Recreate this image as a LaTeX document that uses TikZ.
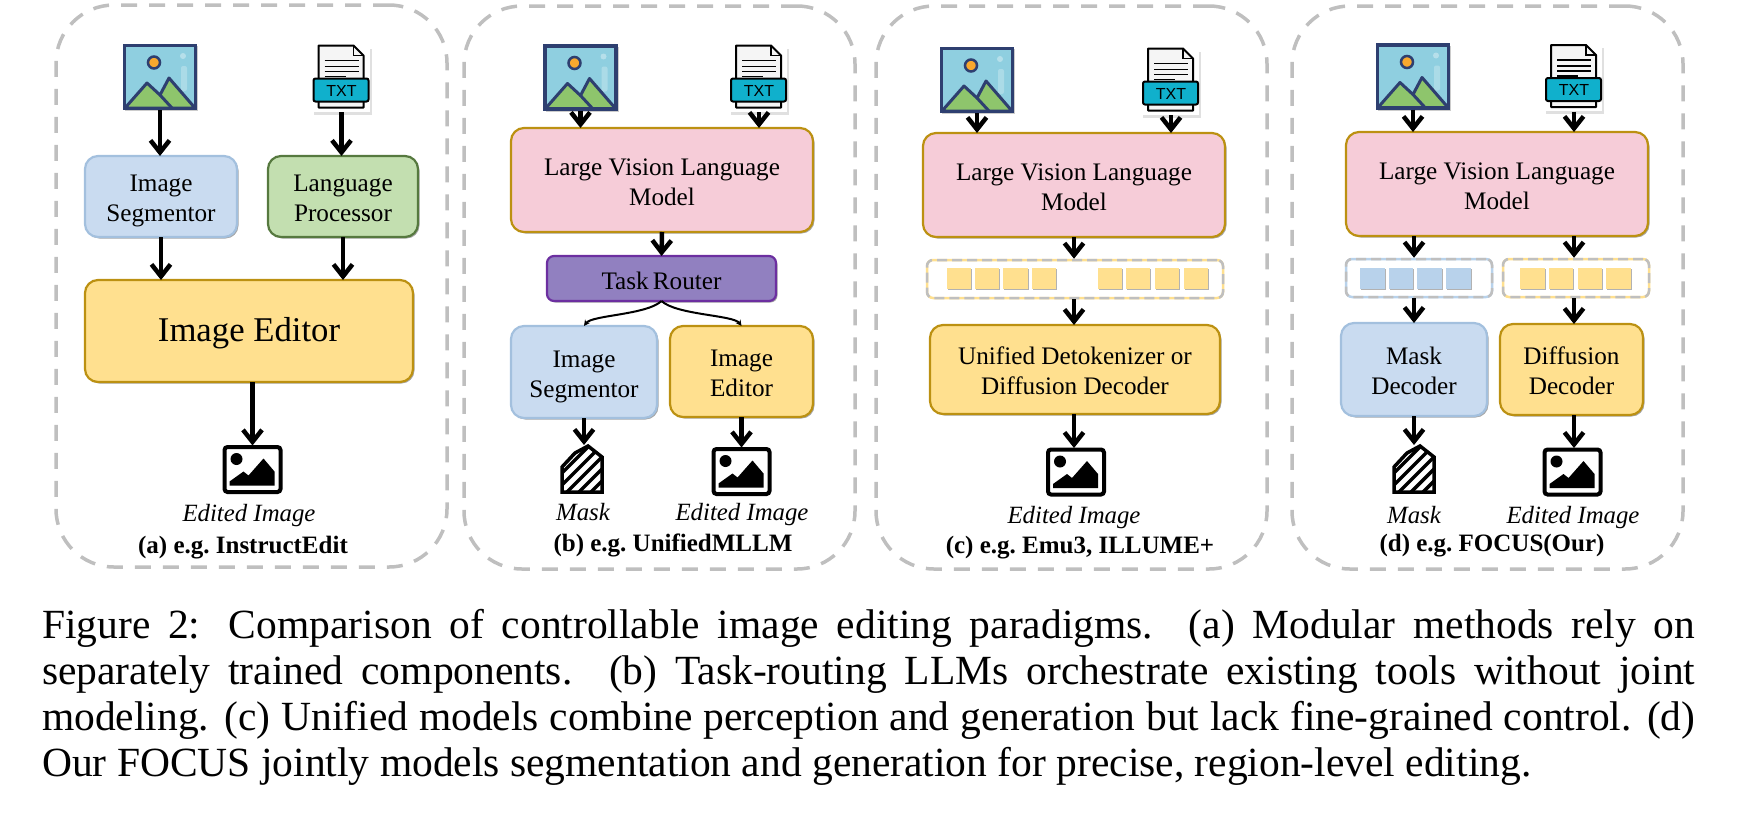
\documentclass[tikz,border=0pt]{standalone}
\usepackage{fontspec}
\setmainfont{Liberation Serif}
\newfontfamily\tagfont{Liberation Sans}
\usetikzlibrary{arrows.meta,shadows}

\definecolor{dashgray}{HTML}{BFBFBF}
\definecolor{blueface}{HTML}{C9DBF0}
\definecolor{blueline}{HTML}{A3C0DE}
\definecolor{bluetoken}{HTML}{B8D2EB}
\definecolor{greenface}{HTML}{C3DFB0}
\definecolor{greenline}{HTML}{56793F}
\definecolor{yellowface}{HTML}{FFE08F}
\definecolor{goldline}{HTML}{BC9112}
\definecolor{pinkface}{HTML}{F6CCD8}
\definecolor{purpleface}{HTML}{9180C0}
\definecolor{purpleline}{HTML}{6C2FA0}
\definecolor{navyline}{HTML}{2E3F70}
\definecolor{skyface}{HTML}{8FCFE0}
\definecolor{hillface}{HTML}{8EC56C}
\definecolor{sunface}{HTML}{F8A82E}
\definecolor{tagface}{HTML}{10B0CC}

% pushes the text of a box a little below its middle
\newcommand{\topstrut}[1][.82em]{\rule{0pt}{#1}}

\tikzset{
	softshadow/.style={drop shadow={shadow xshift=1.5pt,shadow yshift=-1.5pt,opacity=.35,fill=black}},
	boxed/.style={rectangle,rounded corners=13pt,line width=2.2pt,inner sep=0pt,outer sep=0pt,align=center,softshadow,
		font=\fontsize{25.2pt}{30pt}\selectfont},
	bluebox/.style={boxed,draw=blueline,fill=blueface},
	greenbox/.style={boxed,draw=greenline,fill=greenface},
	yellowbox/.style={boxed,draw=goldline,fill=yellowface},
	pinkbox/.style={boxed,draw=goldline,fill=pinkface},
	purplebox/.style={boxed,rounded corners=7pt,draw=purpleline,fill=purpleface},
	panel/.style={rectangle,draw=dashgray,line width=3.5pt,rounded corners=58pt,dash pattern=on 16pt off 12pt,
		inner sep=0pt,outer sep=0pt,minimum width=391pt,minimum height=563pt},
	tokframe/.style={rectangle,draw=#1,line width=2.5pt,rounded corners=6pt,inner sep=0pt,
		minimum width=146pt,minimum height=38pt,postaction={draw=dashgray,dash pattern=on 10pt off 5pt}},
	token/.style={rectangle,fill=#1,inner sep=0pt,minimum width=24.5pt,minimum height=20.5pt,
		drop shadow={shadow xshift=1pt,shadow yshift=-1pt,opacity=.3,fill=black}},
	arr/.style={-{Straight Barb[length=12pt,width=19pt,line width=4.5pt]},line width=4.5pt},
	thinarr/.style={-{Stealth[length=6pt,width=6pt]},line width=2pt},
	iconbox/.style={rectangle,inner sep=0pt,outer sep=0pt},
	outname/.style={inner sep=0pt,text height=18pt,text depth=6pt,font=\fontsize{24.8pt}{30pt}\selectfont\itshape},
	sublabel/.style={inner sep=0pt,text height=18pt,text depth=6pt,font=\fontsize{25pt}{30pt}\selectfont\bfseries\frenchspacing},
	photoicon/.pic={
		\node[iconbox,minimum width=74pt,minimum height=66pt] (box) at (0,0) {};
		\fill[black,opacity=.2] (-35,-31) rectangle (38,34);
		\fill[skyface] (-37,-33) rectangle (37,33);
		\fill[white,opacity=.35] (23,-21) circle (3);
		\fill[white,opacity=.25,rounded corners=2pt] (21,-11) rectangle (27,14);
		\draw[navyline,line width=2.5pt,fill=sunface] (-6,-14.5) circle (6);
		\draw[navyline,line width=3pt,fill=hillface,line join=round] (-35,31) -- (-13,6) -- (0,18) -- (9,1) -- (35,31) -- cycle;
		\draw[navyline,line width=3pt] (0,18) -- (12,31);
		\draw[navyline,line width=3.5pt] (-35.5,-31.5) rectangle (35.5,31.5);
	},
	txticon/.pic={
		\node[iconbox,minimum width=57pt,minimum height=67pt] (box) at (0,0) {};
		\fill[black,opacity=.12] (-28,-30) rectangle (30,36);
		\fill[white] (-29,-33) rectangle (28,33);
		\draw[black,line width=2pt,line join=round,fill=white!96!black] (-23,-33) -- (12,-33) -- (22,-23) -- (22,29) -- (-23,29) -- cycle;
		\draw[black,line width=1.5pt] (12,-33) -- (12,-23) -- (22,-23);
		\foreach \ly in {-18,-12,-7}
			\draw[black,line width=1.8pt] (-17,\ly) -- (17,\ly);
		\draw[black,line width=1.8pt] (-17,-2) -- (4,-2);
		\draw[black,line width=2pt,fill=tagface,rounded corners=2pt] (-28,0) rectangle (27,23);
		\node[inner sep=0pt,text=black,font=\tagfont\fontsize{16pt}{16pt}\selectfont] (tag) at (0,12) {TXT};
	},
	outicon/.pic={
		\node[iconbox,minimum width=60pt,minimum height=48pt] (box) at (0,0) {};
		\draw[black,line width=4pt,rounded corners=3pt] (-28,-22.5) rectangle (28,22.5);
		\fill[black] (-16,-10.5) circle (6);
		\fill[black] (-23,16) -- (-23,12) -- (-9,2) -- (-4,6) -- (11,-11) -- (22,2) -- (22,16) -- cycle;
	},
	maskicon/.pic={
		\node[iconbox,minimum width=42pt,minimum height=48pt] (box) at (0,0) {};
		\begin{scope}
			\clip (-21,24) -- (-21,-2) -- (-7,-17) -- (6,-24) -- (21,-12) -- (21,24) -- cycle;
			\foreach \hx in {-40,-28,-16,-4,8,20,32}
				\draw[black,line width=3.5pt] (\hx,24) -- (\hx+48,-24);
		\end{scope}
		\draw[black,line width=3.5pt,line join=miter] (-20,23) -- (-20,-2) -- (-7,-16) -- (6,-23) -- (20,-12) -- (20,23) -- cycle;
	}
}

\begin{document}
\begin{tikzpicture}[x=1pt,y=-1pt]
	\useasboundingbox (0,0) rectangle (1737,827);

	% panel (a)
	\node[panel,minimum height=562pt] (a) at (251.5,286) {};
	\pic (a-img) at (160,77) {photoicon};
	\pic (a-txt) at (341.5,78.5) {txticon};
	\node[bluebox,minimum width=152pt,minimum height=81pt] (a-seg) at (161,196.5) {\topstrut[1.03em]Image\\Segmentor};
	\node[greenbox,minimum width=150pt,minimum height=81pt] (a-lang) at (343,196.5) {\topstrut Language\\Processor};
	\node[yellowbox,minimum width=328pt,minimum height=102pt,font=\fontsize{34.7pt}{40pt}\selectfont] (a-ed) at (249,331) {\topstrut[29pt]Image Editor};
	\pic (a-out) at (252.5,469.5) {outicon};
	\node[outname] (a-name) at (249,515) {Edited Image};
	\node[sublabel] (a-sub) at (243,547) {(a) e.g. InstructEdit};
	\draw[arr] (a-imgbox.south) -- (a-imgbox.south |- a-seg.north);
	\draw[arr] (a-txtbox.south) -- (a-txtbox.south |- a-lang.north);
	\draw[arr] (a-seg.south) -- (a-seg.south |- a-ed.north);
	\draw[arr] (a-lang.south) -- (a-lang.south |- a-ed.north);
	\draw[arr] (a-outbox.north |- a-ed.south) -- (a-outbox.north);

	% panel (b)
	\node[panel] (b) at (659.5,287.5) {};
	\pic (b-img) at (580.5,77.5) {photoicon};
	\pic (b-txt) at (759,78.5) {txticon};
	\node[pinkbox,minimum width=302pt,minimum height=104pt] (b-llm) at (662,180) {\topstrut Large Vision Language\\Model};
	\node[purplebox,minimum width=229pt,minimum height=45pt] (b-rtr) at (661.5,278.5) {\topstrut[.9em]Task\,Router};
	\node[bluebox,minimum width=146pt,minimum height=92pt] (b-seg) at (584,372) {\topstrut[1.03em]Image\\Segmentor};
	\node[yellowbox,minimum width=143pt,minimum height=91pt] (b-ed) at (741.5,371.5) {\topstrut Image\\Editor};
	\pic (b-msk) at (582,469) {maskicon};
	\pic (b-out) at (741.5,471.5) {outicon};
	\node[outname] (b-mname) at (583,514) {Mask};
	\node[outname] (b-ename) at (742,514) {Edited Image};
	\node[sublabel] (b-sub) at (673,545.5) {(b) e.g. UnifiedMLLM};
	\draw[arr] (b-imgbox.south) -- (b-imgbox.south |- b-llm.north);
	\draw[arr] (b-txtbox.south) -- (b-txtbox.south |- b-llm.north);
	\draw[arr] (b-llm.south) -- (b-rtr.north);
	\draw[thinarr] (b-rtr.south) .. controls +(-15,14) and +(8,-11) .. (b-seg.north);
	\draw[thinarr] (b-rtr.south) .. controls +(15,14) and +(-8,-11) .. (b-ed.north);
	\draw[arr] (b-seg.south) -- (b-seg.south |- b-mskbox.north);
	\draw[arr] (b-ed.south) -- (b-outbox.north);

	% panel (c)
	\node[panel] (c) at (1071.5,287.5) {};
	\pic (c-img) at (977,80) {photoicon};
	\pic (c-txt) at (1171,81.5) {txticon};
	\node[pinkbox,minimum width=302pt,minimum height=104pt] (c-llm) at (1074,185) {\topstrut Large Vision Language\\Model};
	\node[tokframe=yellowface,minimum width=296pt] (c-tok) at (1075,279) {};
	\foreach \sx in {959,987,1015.5,1044,1110,1138,1167,1196}
		\node[token=yellowface] (c-t\sx) at (\sx,278.5) {};
	\node[yellowbox,minimum width=290pt,minimum height=89pt] (c-dec) at (1075,369.5) {\topstrut Unified Detokenizer or\\Diffusion Decoder};
	\pic (c-out) at (1076,472) {outicon};
	\node[outname] (c-name) at (1074,517) {Edited Image};
	\node[sublabel] (c-sub) at (1080,547) {(c) e.g. Emu3, ILLUME+};
	\draw[arr] (c-imgbox.south) -- (c-imgbox.south |- c-llm.north);
	\draw[arr] (c-txtbox.south) -- (c-txtbox.south |- c-llm.north);
	\draw[arr] (c-llm.south) -- (c-llm.south |- c-tok.north);
	\draw[arr] (c-llm.south |- c-tok.south) -- (c-llm.south |- c-dec.north);
	\draw[arr] (c-llm.south |- c-dec.south) -- (c-llm.south |- c-outbox.north);

	% panel (d)
	\node[panel] (d) at (1487.5,287.5) {};
	\pic (d-img) at (1413,76.5) {photoicon};
	\pic (d-txt) at (1574,78) {txticon};
	\node[pinkbox,minimum width=302pt,minimum height=104pt] (d-llm) at (1497,184) {\topstrut Large Vision Language\\Model};
	\node[tokframe=bluetoken] (d-tm) at (1419,278) {};
	\node[tokframe=yellowface] (d-ty) at (1576,278) {};
	\foreach \sx in {1372.5,1401,1429.5,1458.5}
		\node[token=bluetoken] (d-m\sx) at (\sx,278.5) {};
	\foreach \sx in {1532.5,1561,1590,1618.5}
		\node[token=yellowface] (d-y\sx) at (\sx,278.5) {};
	\node[bluebox,minimum width=146pt,minimum height=93pt] (d-mdec) at (1414,369.5) {\topstrut Mask\\Decoder};
	\node[yellowbox,minimum width=143pt,minimum height=91pt] (d-ddec) at (1571.5,369.5) {\topstrut Diffusion\\Decoder};
	\pic (d-msk) at (1414,469) {maskicon};
	\pic (d-out) at (1572.5,472) {outicon};
	\node[outname] (d-mname) at (1414,517) {Mask};
	\node[outname] (d-ename) at (1573,517) {Edited Image};
	\node[sublabel] (d-sub) at (1492,545.5) {(d) e.g. FOCUS(Our)};
	\draw[arr] (d-imgbox.south) -- (d-imgbox.south |- d-llm.north);
	\draw[arr] (d-txtbox.south) -- (d-txtbox.south |- d-llm.north);
	\draw[arr] (d-mskbox.north |- d-llm.south) -- (d-mskbox.north |- d-tm.north);
	\draw[arr] (d-txtbox.south |- d-llm.south) -- (d-txtbox.south |- d-ty.north);
	\draw[arr] (d-mskbox.north |- d-tm.south) -- (d-mskbox.north |- d-mdec.north);
	\draw[arr] (d-txtbox.south |- d-ty.south) -- (d-txtbox.south |- d-ddec.north);
	\draw[arr] (d-mdec.south) -- (d-mskbox.north);
	\draw[arr] (d-txtbox.south |- d-ddec.south) -- (d-txtbox.south |- d-outbox.north);

	\node[anchor=north west,inner sep=0pt,text width=1653pt,align=justify,
		font=\fontsize{41.5pt}{46pt}\selectfont] (caption) at (42,609.5) {Figure 2: Comparison of controllable image editing paradigms. (a) Modular methods rely on\linebreak separately trained components. (b) Task-routing LLMs orchestrate existing tools without joint\linebreak modeling. (c) Unified models combine perception and generation but lack fine-grained control. (d)\linebreak Our FOCUS jointly models segmentation and generation for precise, region-level editing.};
\end{tikzpicture}
\end{document}
